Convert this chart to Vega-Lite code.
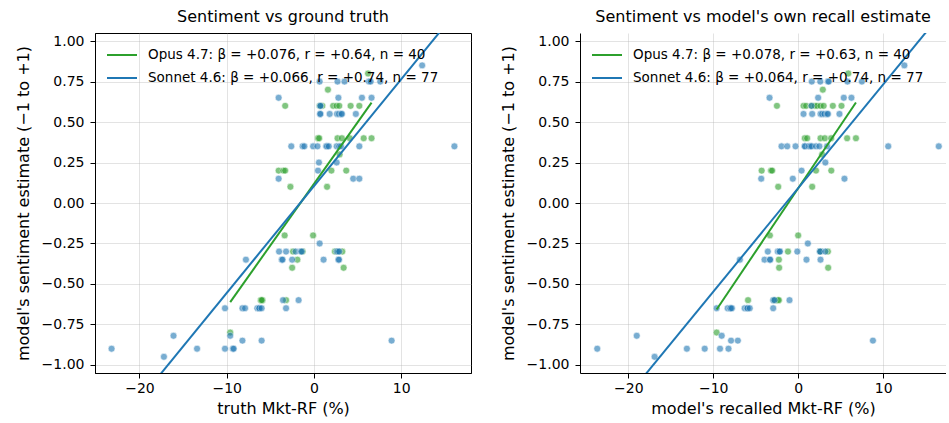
{
"$schema": "https://vega.github.io/schema/vega-lite/v6.json",
"padding": {"left": 14, "top": 8, "right": 0, "bottom": 2},
"config": {
  "font": "DejaVu Sans",
  "view": {"stroke": "black", "strokeWidth": 1},
  "axis": {"domainColor": "black", "domainWidth": 1, "tickColor": "black", "tickSize": 5, "tickWidth": 1, "labelColor": "black", "labelFontSize": 14, "titleFontSize": 16, "titleFontWeight": "normal", "titleColor": "black", "gridColor": "#b0b0b0", "gridOpacity": 0.35, "gridWidth": 1, "labelPadding": 6, "titlePadding": 10},
  "axisX": {"labelPadding": 3, "titlePadding": 5},
  "legend": {"orient": "none", "legendX": 11, "legendY": 6, "labelFontSize": 13.5, "labelColor": "black", "symbolType": "stroke", "symbolSize": 900, "symbolStrokeWidth": 2, "symbolOpacity": 1, "labelLimit": 0, "labelOffset": 10, "rowPadding": -1, "padding": 0},
  "title": {"fontSize": 16, "fontWeight": "normal", "offset": 8, "color": "black"}
},
"datasets": {
  "truth_pts": [
    {"model": "Opus 4.7", "x": 6.2, "y": 0.80}, {"model": "Opus 4.7", "x": 1.6, "y": 0.70},
    {"model": "Opus 4.7", "x": -3.3, "y": 0.60}, {"model": "Opus 4.7", "x": 0.65, "y": 0.60}, {"model": "Opus 4.7", "x": 0.96, "y": 0.60}, {"model": "Opus 4.7", "x": 2.2, "y": 0.60}, {"model": "Opus 4.7", "x": 2.6, "y": 0.60}, {"model": "Opus 4.7", "x": 2.9, "y": 0.60}, {"model": "Opus 4.7", "x": 4.2, "y": 0.60}, {"model": "Opus 4.7", "x": 5.2, "y": 0.60},
    {"model": "Opus 4.7", "x": 0.46, "y": 0.40}, {"model": "Opus 4.7", "x": 0.6, "y": 0.40}, {"model": "Opus 4.7", "x": 2.7, "y": 0.40}, {"model": "Opus 4.7", "x": 3.2, "y": 0.40}, {"model": "Opus 4.7", "x": 4.1, "y": 0.40}, {"model": "Opus 4.7", "x": 5.7, "y": 0.40}, {"model": "Opus 4.7", "x": 6.6, "y": 0.40},
    {"model": "Opus 4.7", "x": 2.94, "y": 0.30},
    {"model": "Opus 4.7", "x": -4.05, "y": 0.20}, {"model": "Opus 4.7", "x": -3.5, "y": 0.20}, {"model": "Opus 4.7", "x": -3.3, "y": 0.20}, {"model": "Opus 4.7", "x": 2.0, "y": 0.20}, {"model": "Opus 4.7", "x": 3.7, "y": 0.20},
    {"model": "Opus 4.7", "x": -2.7, "y": 0.10}, {"model": "Opus 4.7", "x": 1.5, "y": 0.10},
    {"model": "Opus 4.7", "x": -3.36, "y": -0.20}, {"model": "Opus 4.7", "x": -0.1, "y": -0.20},
    {"model": "Opus 4.7", "x": -2.4, "y": -0.30}, {"model": "Opus 4.7", "x": -1.3, "y": -0.30}, {"model": "Opus 4.7", "x": 2.4, "y": -0.30}, {"model": "Opus 4.7", "x": 2.7, "y": -0.30}, {"model": "Opus 4.7", "x": 3.25, "y": -0.30},
    {"model": "Opus 4.7", "x": -1.9, "y": -0.35},
    {"model": "Opus 4.7", "x": -2.5, "y": -0.40}, {"model": "Opus 4.7", "x": 3.4, "y": -0.40},
    {"model": "Opus 4.7", "x": -6.1, "y": -0.60}, {"model": "Opus 4.7", "x": -5.9, "y": -0.60}, {"model": "Opus 4.7", "x": -6.0, "y": -0.60}, {"model": "Opus 4.7", "x": -3.2, "y": -0.60},
    {"model": "Opus 4.7", "x": -9.6, "y": -0.80},
    {"model": "Sonnet 4.6", "x": 12.4, "y": 0.85},
    {"model": "Sonnet 4.6", "x": 0.65, "y": 0.75}, {"model": "Sonnet 4.6", "x": 2.7, "y": 0.75}, {"model": "Sonnet 4.6", "x": 3.5, "y": 0.75}, {"model": "Sonnet 4.6", "x": 6.3, "y": 0.75}, {"model": "Sonnet 4.6", "x": 6.5, "y": 0.75}, {"model": "Sonnet 4.6", "x": 7.6, "y": 0.75},
    {"model": "Sonnet 4.6", "x": -4.05, "y": 0.65}, {"model": "Sonnet 4.6", "x": 2.8, "y": 0.65}, {"model": "Sonnet 4.6", "x": 5.5, "y": 0.65}, {"model": "Sonnet 4.6", "x": 6.6, "y": 0.65},
    {"model": "Sonnet 4.6", "x": 0.7, "y": 0.60}, {"model": "Sonnet 4.6", "x": 0.75, "y": 0.60},
    {"model": "Sonnet 4.6", "x": 0.7, "y": 0.55}, {"model": "Sonnet 4.6", "x": 0.73, "y": 0.55}, {"model": "Sonnet 4.6", "x": 1.8, "y": 0.55}, {"model": "Sonnet 4.6", "x": 2.64, "y": 0.55}, {"model": "Sonnet 4.6", "x": 2.87, "y": 0.55}, {"model": "Sonnet 4.6", "x": 3.13, "y": 0.55}, {"model": "Sonnet 4.6", "x": 3.2, "y": 0.55}, {"model": "Sonnet 4.6", "x": 4.8, "y": 0.55},
    {"model": "Sonnet 4.6", "x": -2.6, "y": 0.35}, {"model": "Sonnet 4.6", "x": -1.3, "y": 0.35}, {"model": "Sonnet 4.6", "x": -1.1, "y": 0.35}, {"model": "Sonnet 4.6", "x": -0.1, "y": 0.35}, {"model": "Sonnet 4.6", "x": 0.4, "y": 0.35}, {"model": "Sonnet 4.6", "x": 1.4, "y": 0.35}, {"model": "Sonnet 4.6", "x": 1.5, "y": 0.35}, {"model": "Sonnet 4.6", "x": 1.7, "y": 0.35}, {"model": "Sonnet 4.6", "x": 2.6, "y": 0.35}, {"model": "Sonnet 4.6", "x": 2.9, "y": 0.35}, {"model": "Sonnet 4.6", "x": 3.1, "y": 0.35}, {"model": "Sonnet 4.6", "x": 5.2, "y": 0.35}, {"model": "Sonnet 4.6", "x": 16.1, "y": 0.35},
    {"model": "Sonnet 4.6", "x": 0.57, "y": 0.25}, {"model": "Sonnet 4.6", "x": 2.6, "y": 0.25},
    {"model": "Sonnet 4.6", "x": 0.46, "y": 0.20},
    {"model": "Sonnet 4.6", "x": -4.05, "y": 0.15}, {"model": "Sonnet 4.6", "x": 4.5, "y": 0.15}, {"model": "Sonnet 4.6", "x": 5.2, "y": 0.15},
    {"model": "Sonnet 4.6", "x": 0.65, "y": -0.25},
    {"model": "Sonnet 4.6", "x": -4.0, "y": -0.30}, {"model": "Sonnet 4.6", "x": -3.2, "y": -0.30}, {"model": "Sonnet 4.6", "x": -2.1, "y": -0.30}, {"model": "Sonnet 4.6", "x": -1.5, "y": -0.30}, {"model": "Sonnet 4.6", "x": -1.4, "y": -0.30}, {"model": "Sonnet 4.6", "x": 2.6, "y": -0.30}, {"model": "Sonnet 4.6", "x": 2.75, "y": -0.30}, {"model": "Sonnet 4.6", "x": 2.9, "y": -0.30},
    {"model": "Sonnet 4.6", "x": -7.8, "y": -0.35}, {"model": "Sonnet 4.6", "x": -3.7, "y": -0.35}, {"model": "Sonnet 4.6", "x": -3.6, "y": -0.35}, {"model": "Sonnet 4.6", "x": -2.5, "y": -0.35}, {"model": "Sonnet 4.6", "x": 1.1, "y": -0.35}, {"model": "Sonnet 4.6", "x": 2.8, "y": -0.35}, {"model": "Sonnet 4.6", "x": 2.87, "y": -0.35},
    {"model": "Sonnet 4.6", "x": -3.55, "y": -0.60}, {"model": "Sonnet 4.6", "x": -1.76, "y": -0.60},
    {"model": "Sonnet 4.6", "x": -10.2, "y": -0.65}, {"model": "Sonnet 4.6", "x": -8.2, "y": -0.65}, {"model": "Sonnet 4.6", "x": -7.9, "y": -0.65}, {"model": "Sonnet 4.6", "x": -6.5, "y": -0.65}, {"model": "Sonnet 4.6", "x": -6.3, "y": -0.65}, {"model": "Sonnet 4.6", "x": -6.25, "y": -0.65}, {"model": "Sonnet 4.6", "x": -6.0, "y": -0.65}, {"model": "Sonnet 4.6", "x": -3.2, "y": -0.65},
    {"model": "Sonnet 4.6", "x": -16.1, "y": -0.82}, {"model": "Sonnet 4.6", "x": -9.6, "y": -0.82},
    {"model": "Sonnet 4.6", "x": -8.2, "y": -0.85}, {"model": "Sonnet 4.6", "x": -6.0, "y": -0.85}, {"model": "Sonnet 4.6", "x": 8.9, "y": -0.85},
    {"model": "Sonnet 4.6", "x": -23.2, "y": -0.90}, {"model": "Sonnet 4.6", "x": -13.4, "y": -0.90}, {"model": "Sonnet 4.6", "x": -10.2, "y": -0.90}, {"model": "Sonnet 4.6", "x": -9.3, "y": -0.90}, {"model": "Sonnet 4.6", "x": -9.2, "y": -0.90},
    {"model": "Sonnet 4.6", "x": -17.2, "y": -0.95}
  ],
  "recall_pts": [
    {"model": "Opus 4.7", "x": 5.9, "y": 0.80}, {"model": "Opus 4.7", "x": 2.9, "y": 0.70},
    {"model": "Opus 4.7", "x": -2.5, "y": 0.60}, {"model": "Opus 4.7", "x": 0.63, "y": 0.60}, {"model": "Opus 4.7", "x": 0.94, "y": 0.60}, {"model": "Opus 4.7", "x": 1.57, "y": 0.60}, {"model": "Opus 4.7", "x": 1.96, "y": 0.60}, {"model": "Opus 4.7", "x": 2.23, "y": 0.60}, {"model": "Opus 4.7", "x": 2.63, "y": 0.60}, {"model": "Opus 4.7", "x": 3.0, "y": 0.60}, {"model": "Opus 4.7", "x": 4.08, "y": 0.60}, {"model": "Opus 4.7", "x": 5.1, "y": 0.60},
    {"model": "Opus 4.7", "x": 0.78, "y": 0.40}, {"model": "Opus 4.7", "x": 1.06, "y": 0.40}, {"model": "Opus 4.7", "x": 2.63, "y": 0.40}, {"model": "Opus 4.7", "x": 3.14, "y": 0.40}, {"model": "Opus 4.7", "x": 3.88, "y": 0.40}, {"model": "Opus 4.7", "x": 5.76, "y": 0.40}, {"model": "Opus 4.7", "x": 6.8, "y": 0.40},
    {"model": "Opus 4.7", "x": 2.82, "y": 0.30},
    {"model": "Opus 4.7", "x": -4.3, "y": 0.20}, {"model": "Opus 4.7", "x": -3.2, "y": 0.20}, {"model": "Opus 4.7", "x": -3.06, "y": 0.20}, {"model": "Opus 4.7", "x": 2.1, "y": 0.20}, {"model": "Opus 4.7", "x": 3.9, "y": 0.20},
    {"model": "Opus 4.7", "x": -2.35, "y": 0.10}, {"model": "Opus 4.7", "x": 1.65, "y": 0.10},
    {"model": "Opus 4.7", "x": -3.33, "y": -0.20}, {"model": "Opus 4.7", "x": 0.0, "y": -0.20},
    {"model": "Opus 4.7", "x": -1.2, "y": -0.30}, {"model": "Opus 4.7", "x": 2.6, "y": -0.30}, {"model": "Opus 4.7", "x": 3.5, "y": -0.30},
    {"model": "Opus 4.7", "x": -2.27, "y": -0.35},
    {"model": "Opus 4.7", "x": -2.24, "y": -0.40}, {"model": "Opus 4.7", "x": 3.53, "y": -0.40},
    {"model": "Opus 4.7", "x": -5.9, "y": -0.60}, {"model": "Opus 4.7", "x": -2.78, "y": -0.60}, {"model": "Opus 4.7", "x": -2.4, "y": -0.60}, {"model": "Opus 4.7", "x": -2.27, "y": -0.60},
    {"model": "Opus 4.7", "x": -9.6, "y": -0.80},
    {"model": "Sonnet 4.6", "x": 12.5, "y": 0.85},
    {"model": "Sonnet 4.6", "x": 1.6, "y": 0.75}, {"model": "Sonnet 4.6", "x": 2.6, "y": 0.75}, {"model": "Sonnet 4.6", "x": 3.5, "y": 0.75}, {"model": "Sonnet 4.6", "x": 3.6, "y": 0.75}, {"model": "Sonnet 4.6", "x": 5.8, "y": 0.75}, {"model": "Sonnet 4.6", "x": 7.5, "y": 0.75},
    {"model": "Sonnet 4.6", "x": -3.37, "y": 0.65}, {"model": "Sonnet 4.6", "x": 2.35, "y": 0.65}, {"model": "Sonnet 4.6", "x": 5.37, "y": 0.65}, {"model": "Sonnet 4.6", "x": 6.27, "y": 0.65},
    {"model": "Sonnet 4.6", "x": 1.57, "y": 0.60},
    {"model": "Sonnet 4.6", "x": 0.63, "y": 0.55}, {"model": "Sonnet 4.6", "x": 1.65, "y": 0.55}, {"model": "Sonnet 4.6", "x": 2.63, "y": 0.55}, {"model": "Sonnet 4.6", "x": 2.82, "y": 0.55}, {"model": "Sonnet 4.6", "x": 3.1, "y": 0.55}, {"model": "Sonnet 4.6", "x": 3.4, "y": 0.55}, {"model": "Sonnet 4.6", "x": 3.5, "y": 0.55}, {"model": "Sonnet 4.6", "x": 4.86, "y": 0.55},
    {"model": "Sonnet 4.6", "x": -1.96, "y": 0.35}, {"model": "Sonnet 4.6", "x": -1.29, "y": 0.35}, {"model": "Sonnet 4.6", "x": -0.31, "y": 0.35}, {"model": "Sonnet 4.6", "x": 0.78, "y": 0.35}, {"model": "Sonnet 4.6", "x": 0.8, "y": 0.35}, {"model": "Sonnet 4.6", "x": 1.25, "y": 0.35}, {"model": "Sonnet 4.6", "x": 1.45, "y": 0.35}, {"model": "Sonnet 4.6", "x": 1.6, "y": 0.35}, {"model": "Sonnet 4.6", "x": 2.1, "y": 0.35}, {"model": "Sonnet 4.6", "x": 2.5, "y": 0.35}, {"model": "Sonnet 4.6", "x": 3.4, "y": 0.35}, {"model": "Sonnet 4.6", "x": 10.6, "y": 0.35}, {"model": "Sonnet 4.6", "x": 16.55, "y": 0.35},
    {"model": "Sonnet 4.6", "x": 3.2, "y": 0.25},
    {"model": "Sonnet 4.6", "x": 0.4, "y": 0.20},
    {"model": "Sonnet 4.6", "x": -4.35, "y": 0.15}, {"model": "Sonnet 4.6", "x": -0.63, "y": 0.15}, {"model": "Sonnet 4.6", "x": 5.45, "y": 0.15},
    {"model": "Sonnet 4.6", "x": 1.14, "y": -0.25},
    {"model": "Sonnet 4.6", "x": -3.57, "y": -0.30}, {"model": "Sonnet 4.6", "x": -2.4, "y": -0.30}, {"model": "Sonnet 4.6", "x": -2.2, "y": -0.30}, {"model": "Sonnet 4.6", "x": -2.15, "y": -0.30}, {"model": "Sonnet 4.6", "x": -0.1, "y": -0.30}, {"model": "Sonnet 4.6", "x": 2.55, "y": -0.30}, {"model": "Sonnet 4.6", "x": 2.6, "y": -0.30}, {"model": "Sonnet 4.6", "x": 3.2, "y": -0.30},
    {"model": "Sonnet 4.6", "x": -6.86, "y": -0.35}, {"model": "Sonnet 4.6", "x": -3.96, "y": -0.35}, {"model": "Sonnet 4.6", "x": -3.33, "y": -0.35}, {"model": "Sonnet 4.6", "x": -3.3, "y": -0.35}, {"model": "Sonnet 4.6", "x": 0.98, "y": -0.35}, {"model": "Sonnet 4.6", "x": 2.63, "y": -0.35},
    {"model": "Sonnet 4.6", "x": -2.94, "y": -0.60}, {"model": "Sonnet 4.6", "x": -2.78, "y": -0.60}, {"model": "Sonnet 4.6", "x": -1.02, "y": -0.60},
    {"model": "Sonnet 4.6", "x": -9.6, "y": -0.65}, {"model": "Sonnet 4.6", "x": -8.3, "y": -0.65}, {"model": "Sonnet 4.6", "x": -8.0, "y": -0.65}, {"model": "Sonnet 4.6", "x": -7.95, "y": -0.65}, {"model": "Sonnet 4.6", "x": -7.8, "y": -0.65}, {"model": "Sonnet 4.6", "x": -6.3, "y": -0.65}, {"model": "Sonnet 4.6", "x": -6.0, "y": -0.65}, {"model": "Sonnet 4.6", "x": -5.95, "y": -0.65}, {"model": "Sonnet 4.6", "x": -5.7, "y": -0.65}, {"model": "Sonnet 4.6", "x": -2.94, "y": -0.65},
    {"model": "Sonnet 4.6", "x": -19.0, "y": -0.82}, {"model": "Sonnet 4.6", "x": -9.0, "y": -0.82},
    {"model": "Sonnet 4.6", "x": -7.9, "y": -0.85}, {"model": "Sonnet 4.6", "x": -7.1, "y": -0.85}, {"model": "Sonnet 4.6", "x": 8.8, "y": -0.85},
    {"model": "Sonnet 4.6", "x": -23.65, "y": -0.90}, {"model": "Sonnet 4.6", "x": -13.1, "y": -0.90}, {"model": "Sonnet 4.6", "x": -11.0, "y": -0.90}, {"model": "Sonnet 4.6", "x": -9.2, "y": -0.90}, {"model": "Sonnet 4.6", "x": -8.2, "y": -0.90},
    {"model": "Sonnet 4.6", "x": -16.9, "y": -0.95}
  ],
  "truth_fit": [
    {"model": "Opus 4.7", "x": -9.6, "y": -0.612}, {"model": "Opus 4.7", "x": 6.6, "y": 0.620},
    {"model": "Sonnet 4.6", "x": -23.2, "y": -1.427}, {"model": "Sonnet 4.6", "x": 16.1, "y": 1.167}
  ],
  "recall_fit": [
    {"model": "Opus 4.7", "x": -9.6, "y": -0.658}, {"model": "Opus 4.7", "x": 6.8, "y": 0.621},
    {"model": "Sonnet 4.6", "x": -23.65, "y": -1.422}, {"model": "Sonnet 4.6", "x": 16.55, "y": 1.151}
  ]
},
"spacing": 28,
"resolve": {"scale": {"x": "independent", "y": "independent"}, "legend": {"color": "independent"}},
"hconcat": [
  {
    "width": 376, "height": 340,
    "title": "Sentiment vs ground truth",
    "layer": [
      {"data": {"name": "truth_pts"},
       "mark": {"type": "circle", "size": 48, "opacity": 0.6, "stroke": "white", "strokeWidth": 0.6},
       "encoding": {
         "x": {"field": "x", "type": "quantitative", "title": "truth Mkt-RF (%)", "scale": {"domain": [-25.1, 18.0], "nice": false, "zero": false}, "axis": {"values": [-20, -10, 0, 10]}},
         "y": {"field": "y", "type": "quantitative", "title": "model's sentiment estimate (−1 to +1)", "scale": {"domain": [-1.05, 1.05], "nice": false, "zero": false}, "axis": {"values": [-1, -0.75, -0.5, -0.25, 0, 0.25, 0.5, 0.75, 1], "format": ".2f"}},
         "color": {"field": "model", "type": "nominal", "scale": {"domain": ["Opus 4.7", "Sonnet 4.6"], "range": ["#2ca02c", "#1f77b4"]}, "legend": {"title": null, "symbolType": "stroke", "labelExpr": "datum.label === 'Opus 4.7' ? 'Opus 4.7: β = +0.076, r = +0.64, n = 40' : 'Sonnet 4.6: β = +0.066, r = +0.74, n = 77'"}}
       }},
      {"mark": {"type": "rule", "color": "#999999", "strokeWidth": 1}, "encoding": {"x": {"datum": 0, "type": "quantitative"}}},
      {"mark": {"type": "rule", "color": "#999999", "strokeWidth": 1}, "encoding": {"y": {"datum": 0, "type": "quantitative"}}},
      {"data": {"name": "truth_fit"},
       "mark": {"type": "line", "strokeWidth": 2, "clip": true},
       "encoding": {
         "x": {"field": "x", "type": "quantitative"},
         "y": {"field": "y", "type": "quantitative"},
         "color": {"field": "model", "type": "nominal", "legend": {"title": null, "symbolType": "stroke", "labelExpr": "datum.label === 'Opus 4.7' ? 'Opus 4.7: β = +0.076, r = +0.64, n = 40' : 'Sonnet 4.6: β = +0.066, r = +0.74, n = 77'"}}
       }}
    ]
  },
  {
    "width": 366, "height": 340,
    "title": "Sentiment vs model's own recall estimate",
    "view": {"stroke": null},
    "layer": [
      {"data": {"name": "recall_pts"},
       "mark": {"type": "circle", "size": 48, "opacity": 0.6, "stroke": "white", "strokeWidth": 0.6},
       "encoding": {
         "x": {"field": "x", "type": "quantitative", "title": "model's recalled Mkt-RF (%)", "scale": {"domain": [-25.68, 17.4], "nice": false, "zero": false}, "axis": {"values": [-20, -10, 0, 10]}},
         "y": {"field": "y", "type": "quantitative", "title": "model's sentiment estimate (−1 to +1)", "scale": {"domain": [-1.05, 1.05], "nice": false, "zero": false}, "axis": {"values": [-1, -0.75, -0.5, -0.25, 0, 0.25, 0.5, 0.75, 1], "format": ".2f"}},
         "color": {"field": "model", "type": "nominal", "scale": {"domain": ["Opus 4.7", "Sonnet 4.6"], "range": ["#2ca02c", "#1f77b4"]}, "legend": {"title": null, "symbolType": "stroke", "labelExpr": "datum.label === 'Opus 4.7' ? 'Opus 4.7: β = +0.078, r = +0.63, n = 40' : 'Sonnet 4.6: β = +0.064, r = +0.74, n = 77'"}}
       }},
      {"mark": {"type": "rule", "color": "#999999", "strokeWidth": 1}, "encoding": {"x": {"datum": 0, "type": "quantitative"}}},
      {"mark": {"type": "rule", "color": "#999999", "strokeWidth": 1}, "encoding": {"y": {"datum": 0, "type": "quantitative"}}},
      {"mark": {"type": "rule", "color": "black", "strokeWidth": 1}, "encoding": {"y": {"datum": 1.05, "type": "quantitative"}}},
      {"data": {"name": "recall_fit"},
       "mark": {"type": "line", "strokeWidth": 2, "clip": true},
       "encoding": {
         "x": {"field": "x", "type": "quantitative"},
         "y": {"field": "y", "type": "quantitative"},
         "color": {"field": "model", "type": "nominal", "legend": {"title": null, "symbolType": "stroke", "labelExpr": "datum.label === 'Opus 4.7' ? 'Opus 4.7: β = +0.078, r = +0.63, n = 40' : 'Sonnet 4.6: β = +0.064, r = +0.74, n = 77'"}}
       }}
    ]
  }
]
}
